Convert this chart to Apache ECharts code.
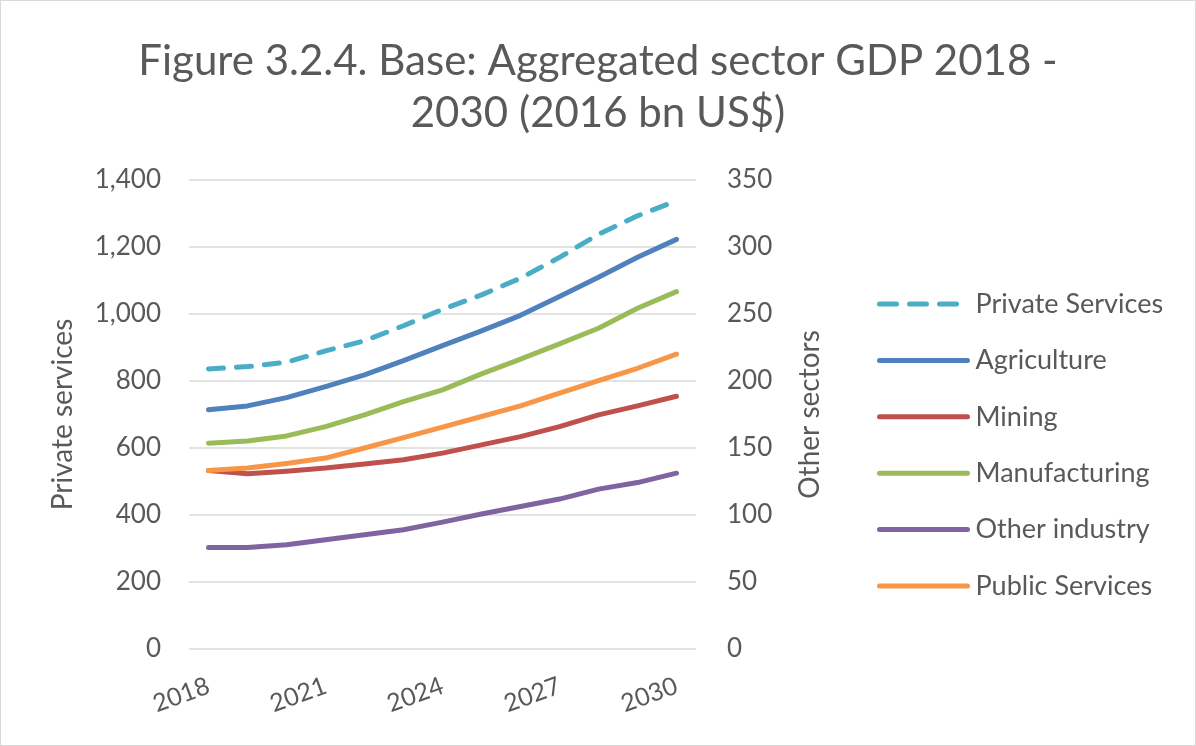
<!DOCTYPE html>
<html>
<head>
<meta charset="utf-8">
<script src="https://cdn.jsdelivr.net/npm/echarts@6/dist/echarts.min.js"></script>
<style>
  html, body { margin: 0; padding: 0; background: #fff; }
  #chart { width: 1194px; height: 744px; border: 1px solid #d9d9d9; }
</style>
</head>
<body>
<div id="chart"></div>
<script>
const years = ['2018', '2019', '2020', '2021', '2022', '2023', '2024', '2025', '2026', '2027', '2028', '2029', '2030']

// left axis (Private services)
const privateServices = [836, 843, 856, 890, 920, 965, 1014, 1057, 1107, 1169, 1238, 1293, 1338]
// right axis (Other sectors)
const agriculture = [178.5, 181.4, 187.6, 195.8, 204.5, 215.2, 226.4, 237.4, 249, 263, 277.4, 292.3, 305.7]
const mining = [133.2, 130.7, 132.7, 135, 138, 141.2, 146.2, 152.3, 158.5, 166, 174.7, 181.4, 188.6]
const manufacturing = [153.6, 155.3, 159, 166, 174.7, 184.6, 193.4, 205.3, 216.3, 227.7, 239.4, 254.3, 266.7]
const otherIndustry = [75.8, 75.8, 77.8, 81.5, 85.2, 89, 94.7, 100.7, 106.3, 111.9, 119.3, 124.2, 131.2]
const publicServices = [133.2, 135, 138.5, 142.5, 150, 157.8, 165.6, 173.5, 181.5, 190.9, 200.3, 209.5, 220]

const font = 'Lato, "Open Sans", sans-serif'
const textColor = '#595959'

const lineSeries = (name, data, color, axis, dashed) => {
  return {
    name: name,
    type: 'line',
    yAxisIndex: axis,
    data: data,
    symbol: 'none',
    smooth: false,
    lineStyle: {
      color: color,
      width: 5,
      cap: 'round',
      join: 'round',
      type: dashed ? [15, 13] : 'solid'
    },
    itemStyle: { color: color }
  }
}

const myChart = echarts.init(document.getElementById('chart'))
const option = {
  animation: false,
  textStyle: { fontFamily: font },
  title: {
    text: 'Figure 3.2.4. Base: Aggregated sector GDP 2018 -\n2030 (2016 bn US$)',
    left: 'center',
    top: 29,
    textStyle: {
      fontFamily: font,
      fontSize: 42,
      fontWeight: 'normal',
      color: textColor,
      lineHeight: 52
    }
  },
  grid: {
    left: 188,
    right: 499,
    top: 179,
    bottom: 96
  },
  legend: {
    orient: 'vertical',
    left: 871,
    top: 284,
    itemWidth: 88,
    itemHeight: 14,
    itemGap: 28.4,
    itemStyle: { opacity: 0 },
    lineStyle: { width: 5, cap: 'round' },
    textStyle: {
      fontFamily: font,
      fontSize: 27,
      lineHeight: 28,
      color: textColor,
      padding: [0, 0, 0, 3]
    },
    data: [
      { name: 'Private Services', lineStyle: { type: [17, 13] } },
      'Agriculture',
      'Mining',
      'Manufacturing',
      'Other industry',
      'Public Services'
    ]
  },
  xAxis: {
    type: 'category',
    data: years,
    axisLine: { show: false },
    axisTick: { show: false },
    axisLabel: {
      interval: 2,
      rotate: 20,
      fontSize: 25,
      color: textColor,
      margin: 36
    }
  },
  yAxis: [
    {
      type: 'value',
      min: 0,
      max: 1400,
      interval: 200,
      name: 'Private services',
      nameLocation: 'middle',
      nameGap: 112,
      nameTextStyle: { fontSize: 28, color: textColor },
      axisLine: { show: false },
      axisTick: { show: false },
      axisLabel: {
        fontSize: 26,
        color: textColor,
        margin: 28,
        formatter: (v) => v.toLocaleString('en-US')
      },
      splitLine: { lineStyle: { color: '#d9d9d9', width: 1.5 } }
    },
    {
      type: 'value',
      min: 0,
      max: 350,
      interval: 50,
      name: 'Other sectors',
      nameLocation: 'middle',
      nameGap: 100,
      nameRotate: 90,
      nameTextStyle: { fontSize: 28, color: textColor },
      axisLine: { show: false },
      axisTick: { show: false },
      axisLabel: {
        fontSize: 26,
        color: textColor,
        margin: 31
      },
      splitLine: { show: false }
    }
  ],
  series: [
    lineSeries('Private Services', privateServices, '#4BACC6', 0, true),
    lineSeries('Agriculture', agriculture, '#4F81BD', 1, false),
    lineSeries('Mining', mining, '#C0504D', 1, false),
    lineSeries('Manufacturing', manufacturing, '#9BBB59', 1, false),
    lineSeries('Other industry', otherIndustry, '#8064A2', 1, false),
    lineSeries('Public Services', publicServices, '#F79646', 1, false)
  ]
}
myChart.setOption(option)
</script>
</body>
</html>
